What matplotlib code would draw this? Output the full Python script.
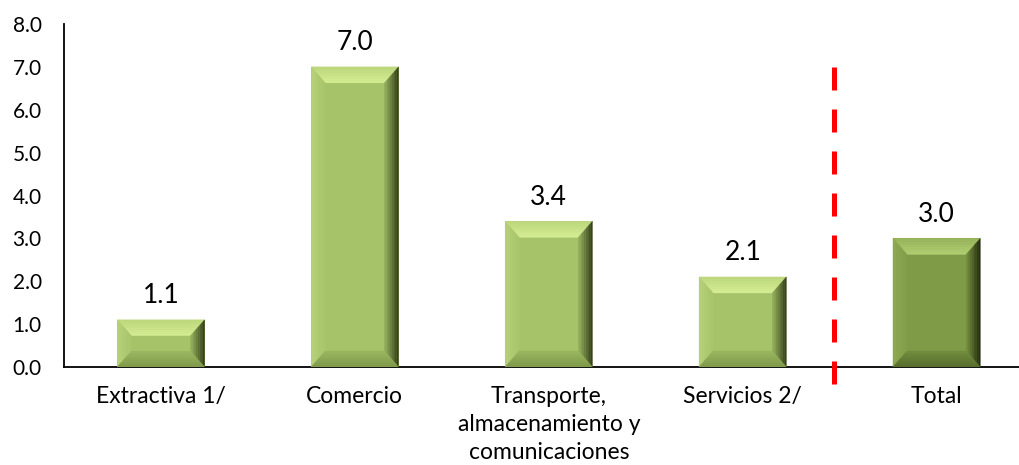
import matplotlib
matplotlib.use("Agg")
import matplotlib.pyplot as plt
import numpy as np
from matplotlib.colors import to_rgb
from matplotlib.patches import Polygon

plt.rcParams["font.family"] = ["Lato", "DejaVu Sans"]

categories = ["Extractiva 1/", "Comercio",
              "Transporte,\nalmacenamiento y\ncomunicaciones",
              "Servicios 2/", "Total"]
values = [1.1, 7.0, 3.4, 2.1, 3.0]
yticks = [0.0, 1.0, 2.0, 3.0, 4.0, 5.0, 6.0, 7.0, 8.0]
divider_x = 3.47
divider_y = [7.0, -0.47]

# face, then (outer, inner) colours for top, left, right, bottom bevels
light = {"face": "#a6c36a",
         "top": ("#bcd67c", "#d6ef95"), "left": ("#b8d27a", "#a8c56c"),
         "right": ("#2f3a16", "#98b35e"), "bottom": ("#7e994a", "#9ab760")}
dark = {"face": "#7f9b47",
        "top": ("#98b45c", "#b3cf72"), "left": ("#8eaa52", "#829e49"),
        "right": ("#1f270c", "#76913f"), "bottom": ("#566b2c", "#738e3f")}


def mix(c1, c2, t):
    a, b = np.array(to_rgb(c1)), np.array(to_rgb(c2))
    return tuple(a + (b - a) * t)


fig = plt.figure(figsize=(10.2, 4.65), dpi=100)
ax = fig.add_axes([64 / 1020, 1 - 367 / 465, 1 - 64 / 1020, (367 - 24) / 465])

x = list(range(len(categories)))
bars = ax.bar(x, values, width=0.45, color=light["face"], zorder=2)
ax.set_xlim(-0.5, 4.43)
ax.set_ylim(0, 8)

# bevel size in pixels converted to data units
px_x = ax.transData.transform((1, 0))[0] - ax.transData.transform((0, 0))[0]
px_y = ax.transData.transform((0, 1))[1] - ax.transData.transform((0, 0))[1]
bx, by = 14 / px_x, 16 / px_y
steps = 8

for i, b in enumerate(bars):
    cols = dark if categories[i] == "Total" else light
    b.set_facecolor(cols["face"])
    x0, x1 = b.get_x(), b.get_x() + b.get_width()
    y0, y1 = 0, b.get_height()
    dy = min(by, y1 / 3)
    for k in range(steps):
        t0, t1 = k / steps, (k + 1) / steps
        t = (k + 0.5) / steps
        ax0, ax1 = x0 + bx * t0, x1 - bx * t0
        ay0, ay1 = y0 + dy * t0, y1 - dy * t0
        bx0, bx1 = x0 + bx * t1, x1 - bx * t1
        by0, by1 = y0 + dy * t1, y1 - dy * t1
        sides = [
            ([(ax0, ay1), (ax1, ay1), (bx1, by1), (bx0, by1)], "top"),
            ([(ax0, ay0), (ax0, ay1), (bx0, by1), (bx0, by0)], "left"),
            ([(ax1, ay0), (ax1, ay1), (bx1, by1), (bx1, by0)], "right"),
            ([(ax0, ay0), (ax1, ay0), (bx1, by0), (bx0, by0)], "bottom"),
        ]
        for pts, side in sides:
            c = mix(cols[side][0], cols[side][1], t)
            ax.add_patch(Polygon(pts, closed=True, facecolor=c, edgecolor=c,
                                 lw=0.3, zorder=3))
    ax.annotate(f"{values[i]:.1f}", (b.get_x() + b.get_width() / 2, y1),
                xytext=(0, 12), textcoords="offset points",
                ha="center", va="baseline", fontsize=19)

ax.plot([divider_x, divider_x], divider_y, color="#ff0000", lw=3.6,
        dashes=(4.6, 3.8), clip_on=False, zorder=4)

ax.set_xticks(x)
ax.set_xticklabels(categories, fontsize=16.5, linespacing=1.4)
ax.set_yticks(yticks)
ax.set_yticklabels([f"{v:.1f}" for v in yticks], fontsize=15)
ax.tick_params(axis="both", length=0)
ax.tick_params(axis="y", pad=16)
ax.tick_params(axis="x", pad=14)

for s in ["top", "right"]:
    ax.spines[s].set_visible(False)
for s in ["left", "bottom"]:
    ax.spines[s].set_linewidth(1.3)
    ax.spines[s].set_color("black")

fig.savefig("out.png", dpi=100)
